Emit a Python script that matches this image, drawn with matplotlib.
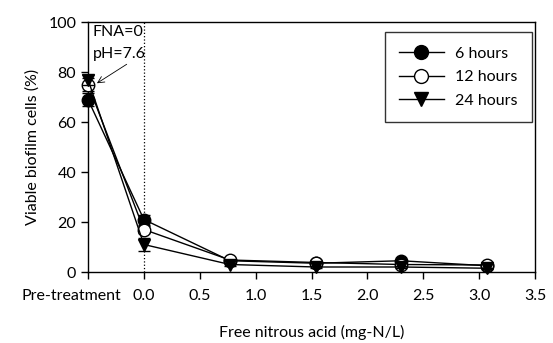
import matplotlib.pyplot as plt
import matplotlib.transforms as mtransforms
from matplotlib.lines import Line2D
import numpy as np

plt.rcParams["font.family"] = ["Lato", "DejaVu Sans"]

fna = [-0.5, 0.0, 0.77, 1.54, 2.30, 3.07]
h6 = [69, 21, 4.5, 3.5, 4.5, 2.5]
h12 = [75, 17, 4.8, 3.8, 3.0, 2.8]
h24 = [77, 11, 3.0, 2.0, 2.0, 1.5]
h6_err = [2.5, 2.0, 0.5, 0.3, 0.5, 0.3]
h12_err = [2.5, 1.5, 0.5, 0.3, 0.3, 0.3]
h24_err = [2.0, 2.5, 0.5, 0.3, 0.3, 0.3]
xticks = [-0.5, 0.0, 0.5, 1.0, 1.5, 2.0, 2.5, 3.0, 3.5]
xticklabels = ["Pre-treatment", "0.0", "0.5", "1.0", "1.5", "2.0", "2.5", "3.0", "3.5"]

fig = plt.figure(figsize=(5.53, 3.43), dpi=100)
ax = fig.add_axes([88 / 553, 1 - 272 / 343, (535 - 88) / 553, (272 - 22) / 343])

ax.axvline(0.0, color="black", linestyle=":", linewidth=0.9, zorder=1)

kw = dict(color="black", linewidth=1.0, markersize=9, capsize=4, elinewidth=0.8,
          markeredgecolor="black", clip_on=False)
ax.errorbar(fna, h6, yerr=h6_err, marker="o", markerfacecolor="black", zorder=3, **kw)
ax.errorbar(fna, h12, yerr=h12_err, marker="o", markerfacecolor="white", zorder=4, **kw)
ax.errorbar(fna, h24, yerr=h24_err, marker="v", markerfacecolor="black", zorder=5, **kw)

ax.set_xlim(-0.5, 3.5)
ax.set_ylim(0, 100)
ax.set_xticks(xticks)
ax.set_xticklabels(xticklabels)
ax.set_yticks([0, 20, 40, 60, 80, 100])
ax.tick_params(direction="out", length=5, width=1, labelsize=11.5)
ax.tick_params(axis="x", pad=7)
for s in ax.spines.values():
    s.set_linewidth(1)

# shift the Pre-treatment label left so it clears 0.0
lab = ax.get_xticklabels()[0]
lab.set_transform(lab.get_transform() + mtransforms.ScaledTranslation(-17 / 100, 0, fig.dpi_scale_trans))

ax.set_xlabel("Free nitrous acid (mg-N/L)", fontsize=11.5, labelpad=16)
ax.set_ylabel("Viable biofilm cells (%)", fontsize=11.5, labelpad=6)

ax.annotate("FNA=0\npH=7.6", xy=(-0.42, 75.5), xytext=(-0.46, 99),
            fontsize=11.5, va="top", ha="left", linespacing=1.75,
            arrowprops=dict(arrowstyle="->", color="black", linewidth=0.6,
                            shrinkA=1, shrinkB=0, relpos=(0.75, 0)))

handles = [
    Line2D([], [], color="black", lw=1, marker="o", ms=10, mfc="black", mec="black"),
    Line2D([], [], color="black", lw=1, marker="o", ms=10, mfc="white", mec="black"),
    Line2D([], [], color="black", lw=1, marker="v", ms=10, mfc="black", mec="black"),
]
leg = ax.legend(handles, ["6 hours", "12 hours", "24 hours"],
                loc="upper right", bbox_to_anchor=(0.993, 0.96), fontsize=11.5,
                frameon=True, fancybox=False, edgecolor="black",
                handlelength=2.8, handletextpad=0.7, borderpad=0.9,
                labelspacing=0.6, borderaxespad=0)
leg.get_frame().set_linewidth(1)

fig.savefig("out.png", dpi=100)
